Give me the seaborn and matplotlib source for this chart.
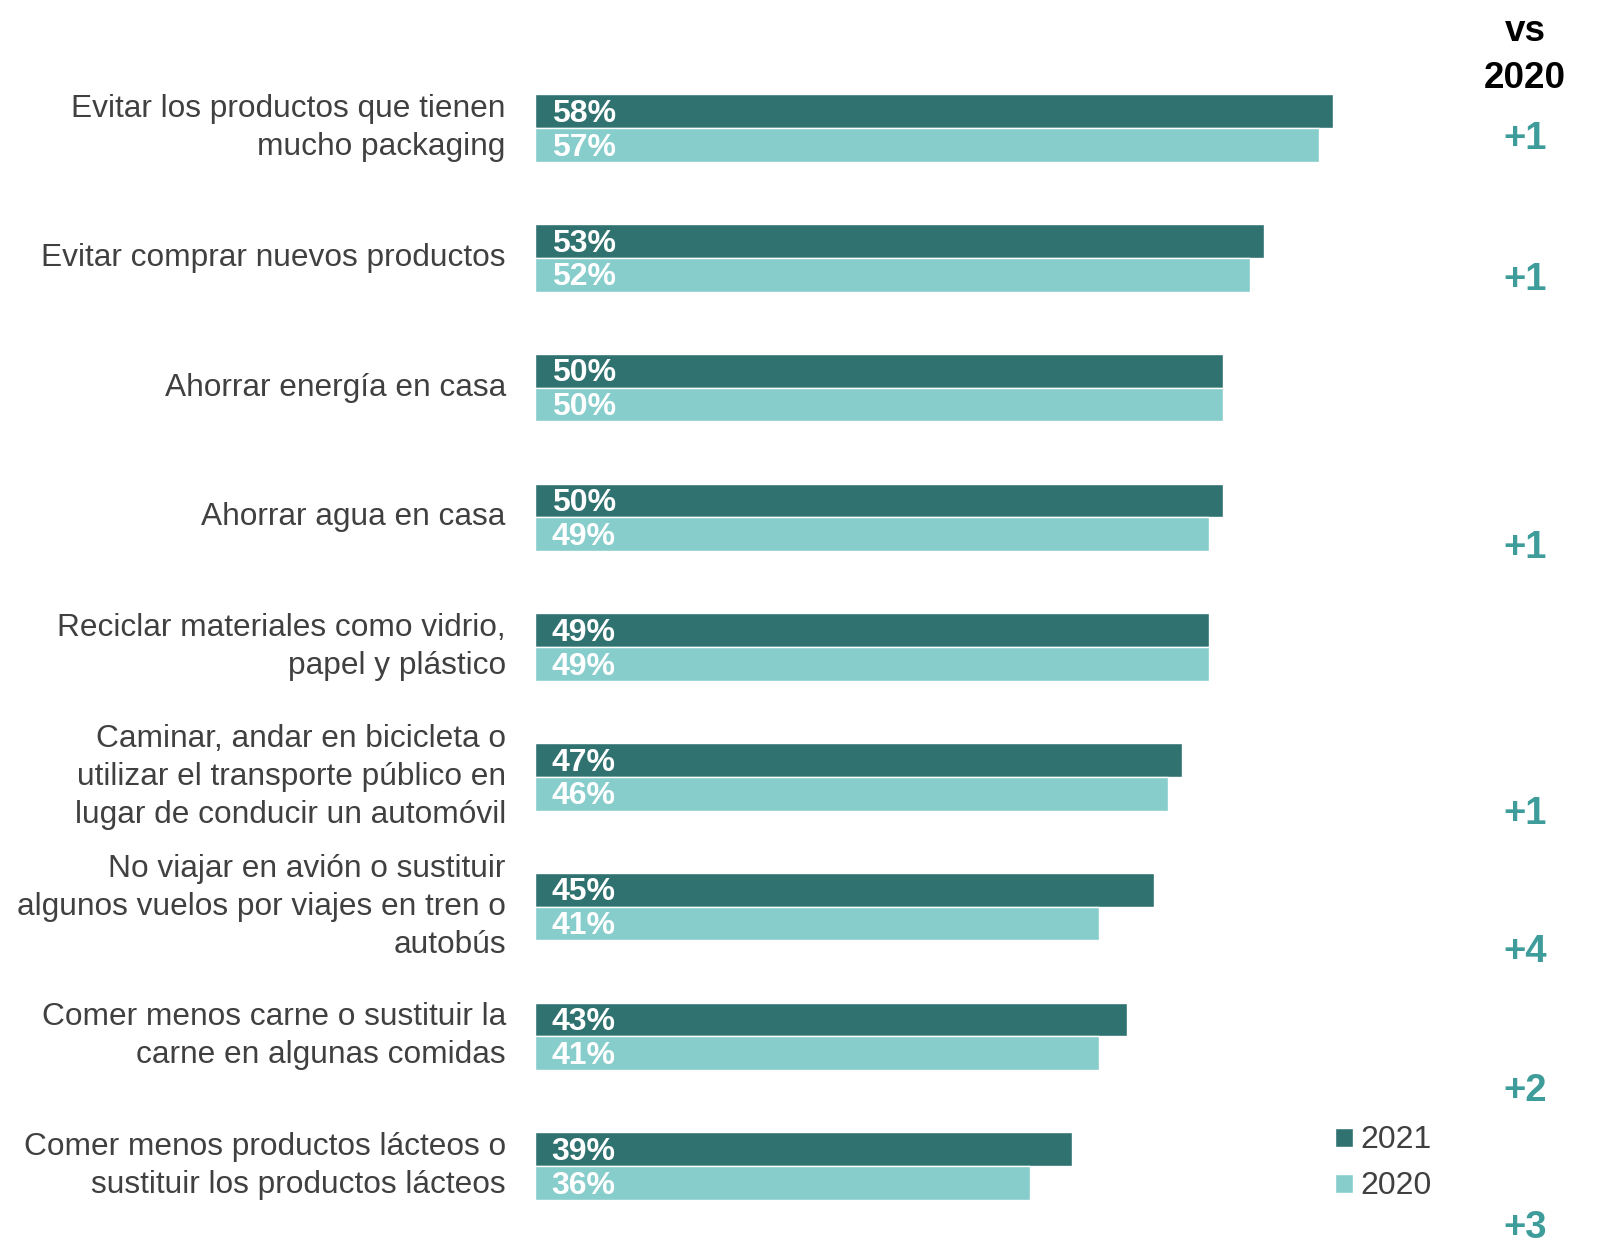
"""Acciones sostenibles: comparación 2021 vs 2020."""

import matplotlib.pyplot as plt
import pandas as pd
import seaborn as sns
from matplotlib.patches import Patch

ACTIONS = [
    "Evitar los productos que tienen\nmucho packaging",
    "Evitar comprar nuevos productos",
    "Ahorrar energía en casa",
    "Ahorrar agua en casa",
    "Reciclar materiales como vidrio,\npapel y plástico",
    "Caminar, andar en bicicleta o\nutilizar el transporte público en\nlugar de conducir un automóvil",
    "No viajar en avión o sustituir\nalgunos vuelos por viajes en tren o\nautobús",
    "Comer menos carne o sustituir la\ncarne en algunas comidas",
    "Comer menos productos lácteos o\nsustituir los productos lácteos",
]
YEARS = ["2021", "2020"]
SHARE_2021 = [58, 53, 50, 50, 49, 47, 45, 43, 39]
SHARE_2020 = [57, 52, 50, 49, 49, 46, 41, 41, 36]

DARK = "#2f7270"
LIGHT = "#86cdcb"
TEAL_TEXT = "#3e9c9a"
GREY_TEXT = "#404040"

# figure-fraction heights of the "vs 2020" column entries (one per row)
DELTA_Y = [0.888, 0.775, 0.67, 0.559, 0.455, 0.345, 0.234, 0.122, 0.012]


def build_frame() -> pd.DataFrame:
    rows = []
    for action, a, b in zip(ACTIONS, SHARE_2021, SHARE_2020):
        rows.append({"action": action, "year": YEARS[0], "share": a})
        rows.append({"action": action, "year": YEARS[1], "share": b})
    return pd.DataFrame(rows)


def main() -> None:
    sns.set_theme(style="white")
    plt.rcParams["font.family"] = ["Liberation Sans", "DejaVu Sans"]

    data = build_frame()
    fig = plt.figure(figsize=(15.97, 12.43), dpi=100)
    ax = fig.add_axes([0.335, 0.0, 0.665, 1.0])

    sns.barplot(
        data=data,
        x="share",
        y="action",
        hue="year",
        hue_order=YEARS,
        palette={YEARS[0]: DARK, YEARS[1]: LIGHT},
        orient="h",
        width=0.52,
        edgecolor="white",
        linewidth=1,
        saturation=1,
        legend=False,
        ax=ax,
    )

    ax.set_xlim(0, 77.2)
    ax.set_ylim(8.593, -0.987)
    ax.set_xlabel("")
    ax.set_ylabel("")
    ax.set_xticks([])
    ax.tick_params(axis="y", length=0, pad=21, labelsize=22.8, labelcolor=GREY_TEXT)
    for label in ax.get_yticklabels():
        label.set_linespacing(1.35)
        label.set_verticalalignment("center")
    sns.despine(ax=ax, left=True, bottom=True)

    for container in ax.containers:
        for bar in container:
            ax.annotate(
                f"{bar.get_width():.0f}%",
                xy=(bar.get_x(), bar.get_y() + bar.get_height() / 2),
                xytext=(12, -2),
                textcoords="offset points",
                ha="left",
                va="center",
                color="white",
                fontsize=23,
                fontweight="bold",
            )

    fig.text(0.955, 0.975, "vs", ha="center", va="center",
             fontsize=26.5, fontweight="bold", color="black")
    fig.text(0.955, 0.937, "2020", ha="center", va="center",
             fontsize=26.5, fontweight="bold", color="black")
    for a, b, y in zip(SHARE_2021, SHARE_2020, DELTA_Y):
        delta = a - b
        if delta == 0:
            continue
        fig.text(0.955, y, f"+{delta}" if delta > 0 else f"{delta}",
                 ha="center", va="center", fontsize=27.5,
                 fontweight="bold", color=TEAL_TEXT)

    handles = [Patch(facecolor=DARK, label=YEARS[0]),
               Patch(facecolor=LIGHT, label=YEARS[1])]
    fig.legend(
        handles=handles,
        loc="center left",
        bbox_to_anchor=(0.836, 0.064),
        frameon=False,
        fontsize=23,
        labelcolor=GREY_TEXT,
        handlelength=0.55,
        handleheight=0.55,
        handletextpad=0.25,
        labelspacing=0.5,
        borderpad=0,
        borderaxespad=0,
    )

    fig.savefig("out.png", dpi=100)
    plt.close(fig)


if __name__ == "__main__":
    main()
